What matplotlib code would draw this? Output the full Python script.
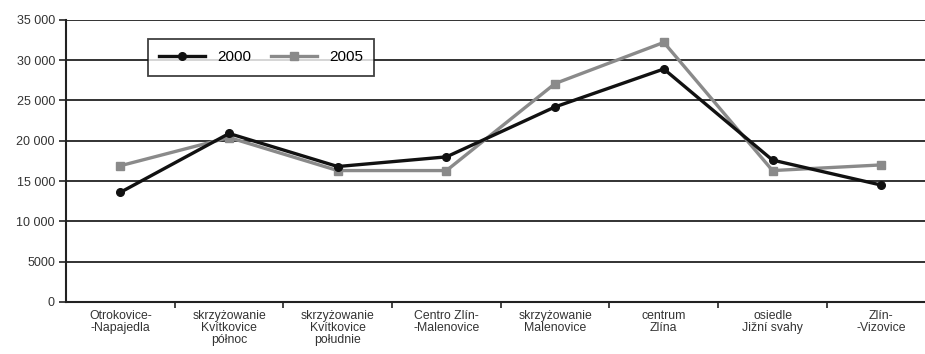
import numpy as np
import matplotlib
matplotlib.use("Agg")
import matplotlib.pyplot as plt
from matplotlib.ticker import FixedLocator, NullFormatter

plt.rcParams["font.family"] = ["Liberation Sans", "DejaVu Sans"]

# measuring points along the corridor
locations = [
    "Otrokovice-\n-Napajedla",
    "skrzyżowanie\nKvítkovice\npółnoc",
    "skrzyżowanie\nKvítkovice\npołudnie",
    "Centro Zlín-\n-Malenovice",
    "skrzyżowanie\nMalenovice",
    "centrum\nZlína",
    "osiedle\nJižní svahy",
    "Zlín-\n-Vizovice",
]
traffic_2000 = [13600, 20900, 16800, 18000, 24200, 28900, 17600, 14500]
traffic_2005 = [16900, 20400, 16300, 16300, 27100, 32200, 16300, 17000]
y_ticks = [0, 5000, 10000, 15000, 20000, 25000, 30000, 35000]
y_labels = ["0", "5000", "10 000", "15 000", "20 000", "25 000", "30 000", "35 000"]

fig = plt.figure(figsize=(9.25, 3.54), dpi=100)
ax = fig.add_axes([0.0714, 0.147, 0.94, 0.797])

x = np.arange(len(locations))
ax.plot(x, traffic_2005, color="#8a8a8a", lw=2.4, marker="s", ms=5.5,
        label="2005", zorder=3)
ax.plot(x, traffic_2000, color="#111111", lw=2.4, marker="o", ms=5.5,
        label="2000", zorder=4)

ax.set_xlim(-0.5, len(locations) - 0.5)
ax.set_ylim(0, 35000)
ax.set_yticks(y_ticks)
ax.set_yticklabels(y_labels, fontsize=9, color="#333333")
ax.yaxis.grid(True, color="#222222", lw=1.3)
ax.set_axisbelow(True)

ax.set_xticks(x)
ax.set_xticklabels(locations, fontsize=8.8, color="#333333", linespacing=1.0)
ax.tick_params(axis="x", length=0, pad=6)
ax.xaxis.set_minor_locator(FixedLocator(np.arange(0.5, len(locations) - 1, 1)))
ax.xaxis.set_minor_formatter(NullFormatter())
ax.tick_params(axis="x", which="minor", length=4, width=1.2, color="#222222")
ax.tick_params(axis="y", length=5, width=1.2, color="#222222", pad=3)

for side in ["top", "right"]:
    ax.spines[side].set_visible(False)
for side in ["left", "bottom"]:
    ax.spines[side].set_color("#222222")
    ax.spines[side].set_linewidth(1.5)

handles, labels = ax.get_legend_handles_labels()
leg = ax.legend(handles[::-1], labels[::-1], loc="upper left",
                bbox_to_anchor=(0.085, 0.96), ncol=2, fontsize=11,
                frameon=True, fancybox=False, handlelength=3.0,
                columnspacing=1.3, borderpad=0.75)
leg.get_frame().set_edgecolor("#111111")
leg.get_frame().set_linewidth(1.3)

fig.savefig("out.png", dpi=100)
